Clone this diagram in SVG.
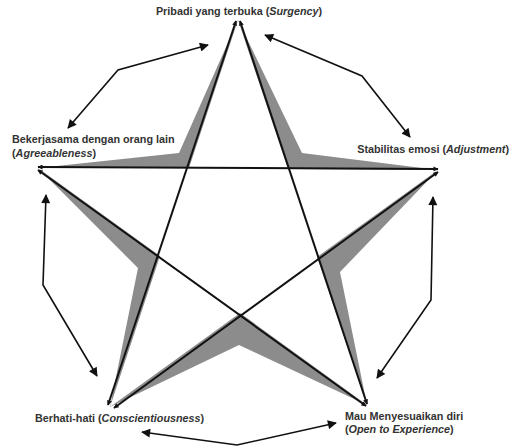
<svg xmlns="http://www.w3.org/2000/svg" width="512" height="447" viewBox="0 0 512 447">
<defs>
<marker id="sm" viewBox="0 0 10 10" refX="9" refY="5" markerWidth="7" markerHeight="5" markerUnits="userSpaceOnUse" orient="auto-start-reverse">
<path d="M0,0 L10,5 L0,10 z" fill="#111"/>
</marker>
<marker id="lg" viewBox="0 0 10 10" refX="9" refY="5" markerWidth="11" markerHeight="9" markerUnits="userSpaceOnUse" orient="auto-start-reverse">
<path d="M0,0 L10,5 L0,10 z" fill="#111"/>
</marker>
<style>
.lbl{font-family:"Liberation Sans",Arial,sans-serif;font-weight:bold;font-size:10.8px;fill:#333}
.it{font-style:italic}
.star{stroke:#111;stroke-width:2;fill:none;marker-start:url(#sm);marker-end:url(#sm)}
.arr{stroke:#111;stroke-width:1.6;fill:none;stroke-linejoin:miter;marker-start:url(#lg);marker-end:url(#lg)}
</style>
</defs>
<rect width="512" height="447" fill="#fff"/>
<g id="star-shade">
<polygon points="238,20 179,153 38,168 138,268 110,407 239,345 367,405 340,272 438,170 302,153" fill="#8c8c8c"/>
<polygon points="238,20 189,168 38,168 160,256 110,407 240,313 367,405 317,257 438,170 288,169" fill="#fff"/>
</g>
<g id="connectors">
<line class="star" x1="236" y1="21" x2="108" y2="405"/>
<line class="star" x1="240" y1="21" x2="367" y2="404"/>
<line class="star" x1="38" y1="167" x2="438" y2="169"/>
<line class="star" x1="38" y1="170" x2="366" y2="406"/>
<line class="star" x1="438" y1="172" x2="114" y2="408"/>
<polyline class="arr" points="68,128 118,70 208,45"/>
<polyline class="arr" points="265,35 362,76 410,137"/>
<polyline class="arr" points="46,195 43,285 97,376"/>
<polyline class="arr" points="433,197 431,300 377,378"/>
<polyline class="arr" points="142,432 237,445 336,423"/>
</g>
<g id="surgency"><text class="lbl" x="239" y="15" text-anchor="middle">Pribadi yang terbuka (<tspan class="it">Surgency</tspan>)</text></g>
<g id="agreeableness"><text class="lbl" x="12" y="143">Bekerjasama dengan orang lain</text><text class="lbl" x="12" y="156.5">(<tspan class="it">Agreeableness</tspan>)</text></g>
<g id="adjustment"><text class="lbl" x="509" y="153" text-anchor="end">Stabilitas emosi (<tspan class="it">Adjustment</tspan>)</text></g>
<g id="conscientiousness"><text class="lbl" x="35" y="421.5">Berhati-hati (<tspan class="it">Conscientiousness</tspan>)</text></g>
<g id="openness"><text class="lbl" x="345" y="420">Mau Menyesuaikan diri</text><text class="lbl" x="345" y="432.5">(<tspan class="it">Open to Experience</tspan>)</text></g>
</svg>
